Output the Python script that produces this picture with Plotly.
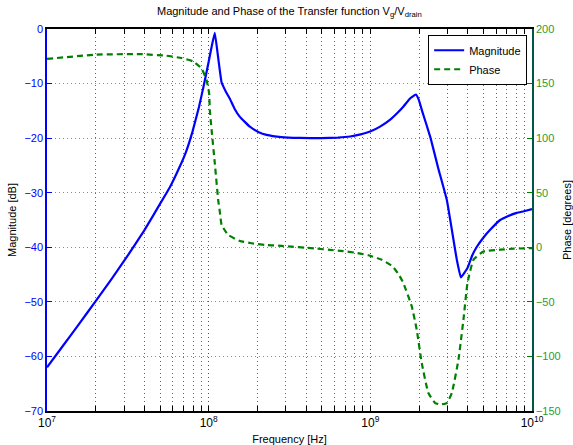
import numpy as np
import plotly.graph_objects as go

# --- data (log10 of frequency in Hz) ---
mag_log10_freq = [7.000, 7.100, 7.200, 7.300, 7.400, 7.500, 7.600, 7.700, 7.760, 7.820,
                  7.860, 7.900, 7.940, 7.970, 8.000, 8.020, 8.038, 8.059, 8.080, 8.105,
                  8.131, 8.160, 8.193, 8.255, 8.310, 8.358, 8.450, 8.564, 8.695, 8.800,
                  8.875, 8.940, 8.999, 9.060, 9.123, 9.170, 9.205, 9.247, 9.270, 9.282,
                  9.300, 9.319, 9.371, 9.420, 9.473, 9.535, 9.560, 9.601, 9.630, 9.659,
                  9.700, 9.741, 9.803, 9.850, 9.906, 9.950, 10.0]
magnitude_db = [-62.0, -58.0, -54.0, -49.9, -45.8, -41.5, -37.0, -32.0, -29.0, -25.3,
                -22.5, -18.8, -14.3, -10.3, -6.0, -3.0, -0.7, -5.3, -9.8, -11.4,
                -12.8, -14.6, -16.1, -17.9, -18.9, -19.4, -19.8, -19.95, -20.0, -19.9,
                -19.7, -19.3, -18.8, -17.9, -16.6, -15.3, -14.2, -12.7, -12.2, -12.0,
                -13.0, -14.9, -19.8, -25.5, -31.3, -42.3, -45.5, -43.8, -41.5, -39.9,
                -38.2, -36.8, -35.0, -34.3, -33.7, -33.4, -33.0]

phase_log10_freq = [7.000, 7.306, 7.574, 7.739, 7.832, 7.904, 7.956, 7.987, 8.003, 8.007, 8.018,
                    8.038, 8.059, 8.069, 8.080, 8.121, 8.193, 8.266, 8.348, 8.431, 8.513, 8.596,
                    8.668, 8.750, 8.833, 8.905, 8.988, 9.071, 9.139, 9.180, 9.204, 9.256, 9.287,
                    9.318, 9.359, 9.401, 9.432, 9.473, 9.504, 9.545, 9.576, 9.601, 9.638, 9.700,
                    9.803, 9.886, 10.0]
phase_deg = [172.6, 176.5, 177.0, 175.5, 173.4, 170.3, 163.8, 153.1, 140.9, 126.0, 107.7,
             77.0, 43.3, 32.6, 20.5, 11.3, 5.8, 3.7, 2.2, 1.5, 0.6, -0.3,
             -1.2, -2.4, -3.6, -4.9, -7.3, -11.5, -17.7, -26.0, -32.7, -54.0, -75.5,
             -106.0, -133.5, -142.7, -144.0, -142.7, -133.5, -103.0, -66.3, -32.7, -11.4, -3.8,
             -2.2, -1.3, -0.7]

x_decades = [1e7, 1e8, 1e9, 1e10]
x_tick_text = ["10<sup>7</sup>", "10<sup>8</sup>", "10<sup>9</sup>", "10<sup>10</sup>"]
mag_ticks = [0, -10, -20, -30, -40, -50, -60, -70]
phase_ticks = [200, 150, 100, 50, 0, -50, -100, -150]

mag_freq = np.power(10.0, mag_log10_freq)
phase_freq = np.power(10.0, phase_log10_freq)
minor_vals = [m * d for d in [1e7, 1e8, 1e9] for m in range(2, 10)]

BLUE = "#0000ff"
GREEN = "#008000"
FONT = "Liberation Sans, Arial, sans-serif"
DOT = "1px,3px"

fig = go.Figure()
fig.add_trace(go.Scatter(x=mag_freq, y=magnitude_db, name="Magnitude", mode="lines",
                         line=dict(color=BLUE, width=2.2, shape="spline", smoothing=0.3),
                         yaxis="y"))
fig.add_trace(go.Scatter(x=phase_freq, y=phase_deg, name="Phase", mode="lines",
                         line=dict(color=GREEN, width=2.2, dash="6px,4px", shape="spline",
                                   smoothing=0.4),
                         yaxis="y2"))

fig.update_layout(
    width=573, height=445,
    margin=dict(l=47, r=41, t=29, b=34),
    paper_bgcolor="white", plot_bgcolor="white",
    font=dict(family=FONT, size=11, color="black"),
    title=dict(text="Magnitude and Phase of the Transfer function V<sub>g</sub>/V<sub>drain</sub>",
               x=0.505, xanchor="center", y=0.975, yanchor="middle",
               font=dict(size=11, color="black")),
    xaxis=dict(type="log", range=[7, 10], showline=True, linecolor="black", linewidth=1.5,
               mirror="allticks", ticks="inside", ticklen=5, tickcolor="black",
               tickmode="array", tickvals=x_decades, ticktext=x_tick_text,
               tickfont=dict(size=12, color="black"), automargin=False,
               showgrid=True, gridcolor="#555555", griddash=DOT, gridwidth=1,
               minor=dict(tickmode="array", tickvals=minor_vals, ticks="inside", ticklen=3,
                          tickcolor="black", showgrid=True, gridcolor="#666666",
                          griddash=DOT, gridwidth=1),
               title=dict(text="Frequency [Hz]", standoff=8, font=dict(size=11)),
               zeroline=False),
    yaxis=dict(range=[-70, 0], showline=True, linecolor=BLUE, linewidth=1.5,
               ticks="inside", ticklen=5, tickcolor=BLUE, tickmode="array",
               tickvals=mag_ticks, tickfont=dict(size=11, color=BLUE), automargin=False,
               showgrid=True, gridcolor="#7a7aff", griddash=DOT, gridwidth=1,
               zeroline=False,
               title=dict(text="Magnitude [dB]", standoff=6, font=dict(size=11, color="black"))),
    yaxis2=dict(range=[-150, 200], overlaying="y", side="right", showline=True,
                linecolor="#00584a", linewidth=1.5, ticks="inside", ticklen=5,
                tickcolor=GREEN, tickmode="array", tickvals=phase_ticks, automargin=False,
                tickfont=dict(size=11, color="#2e9a2e"), showgrid=False, zeroline=False,
                title=dict(text="Phase [degrees]", standoff=6, font=dict(size=11, color="black"))),
    legend=dict(x=0.99, xanchor="right", y=0.985, yanchor="top",
                bgcolor="white", bordercolor="black", borderwidth=1,
                font=dict(size=11, color="black"), itemwidth=30,
                tracegroupgap=0),
    showlegend=True,
)

fig.write_html("out.html")
